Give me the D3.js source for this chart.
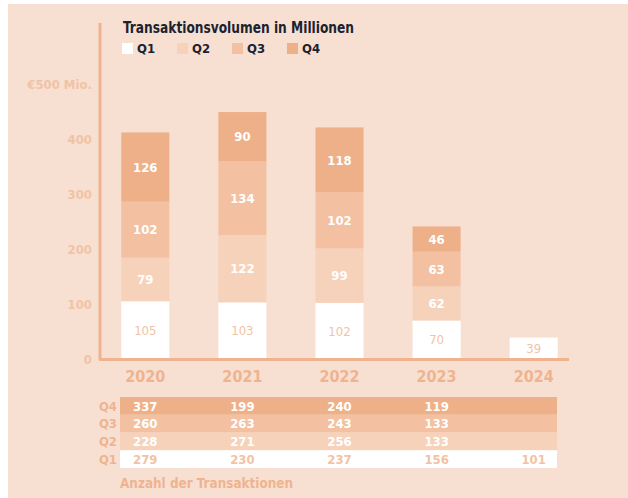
<!DOCTYPE html>
<html>
<head>
<meta charset="utf-8">
<script src="https://cdn.jsdelivr.net/npm/d3@7"></script>
<style>
  body { margin: 0; background: #fff; }
  text { font-family: "DejaVu Sans Condensed", "DejaVu Sans", sans-serif; }
</style>
</head>
<body>
<div id="chart"></div>
<script>
var years = ["2020", "2021", "2022", "2023", "2024"];
var quarters = ["Q1", "Q2", "Q3", "Q4"];
// Transaktionsvolumen in Mio. je Quartal
var q1Volume = [105, 103, 102, 70, 39];
var q2Volume = [79, 122, 99, 62, 0];
var q3Volume = [102, 134, 102, 63, 0];
var q4Volume = [126, 90, 118, 46, 0];
// Anzahl der Transaktionen je Quartal
var q1Count = [279, 230, 237, 156, 101];
var q2Count = [228, 271, 256, 133, null];
var q3Count = [260, 263, 243, 133, null];
var q4Count = [337, 199, 240, 119, null];
var yTicks = [0, 100, 200, 300, 400];

var colors = {Q1: "#ffffff", Q2: "#f6d2bb", Q3: "#f3c1a1", Q4: "#eeb089"};
var bg = "#f7e0d1", accent = "#efb48f", light = "#f1c3a5";

var svg = d3.select("#chart").append("svg")
    .attr("width", 628)
    .attr("height", 498);

svg.append("rect")
    .attr("x", 8).attr("y", 4)
    .attr("width", 620).attr("height", 494)
    .attr("fill", bg);

var volume = years.map(function(y, i) {
  return {year: y, Q1: q1Volume[i], Q2: q2Volume[i], Q3: q3Volume[i], Q4: q4Volume[i]};
});

var x = d3.scaleBand()
    .domain(years)
    .range([97, 582])
    .paddingInner(0.505)
    .paddingOuter(0.25);

var y = d3.scaleLinear()
    .domain([0, 500])
    .range([359, 84]);

var stack = d3.stack().keys(quarters)(volume);

// bars
var layer = svg.selectAll(".layer")
    .data(stack)
  .enter().append("g")
    .attr("class", "layer")
    .attr("fill", function(d) { return colors[d.key]; });

layer.selectAll("rect")
    .data(function(d) { return d.filter(function(s) { return s[1] > s[0]; }); })
  .enter().append("rect")
    .attr("x", function(d) { return x(d.data.year); })
    .attr("y", function(d) { return y(d[1]); })
    .attr("width", x.bandwidth())
    .attr("height", function(d) { return y(d[0]) - y(d[1]); });

layer.each(function(series) {
  d3.select(this).selectAll("text")
      .data(series.filter(function(s) { return s[1] > s[0]; }))
    .enter().append("text")
      .attr("x", function(d) { return x(d.data.year) + x.bandwidth() / 2; })
      .attr("y", function(d) { return (y(d[0]) + y(d[1])) / 2; })
      .attr("dy", "0.36em")
      .attr("text-anchor", "middle")
      .attr("fill", series.key === "Q1" ? light : "#fff")
      .style("font-size", "13px")
      .style("font-weight", series.key === "Q1" ? "normal" : "bold")
      .text(function(d) { return d[1] - d[0]; });
});

// axes
svg.append("line")
    .attr("x1", 100).attr("x2", 100)
    .attr("y1", 23).attr("y2", 360)
    .attr("stroke", accent).attr("stroke-width", 3);

svg.append("line")
    .attr("x1", 99).attr("x2", 569)
    .attr("y1", 359.5).attr("y2", 359.5)
    .attr("stroke", accent).attr("stroke-width", 3);

svg.selectAll(".ytick")
    .data(yTicks)
  .enter().append("text")
    .attr("class", "ytick")
    .attr("x", 92)
    .attr("y", function(d) { return y(d); })
    .attr("dy", "0.36em")
    .attr("text-anchor", "end")
    .attr("fill", light)
    .style("font-size", "13px")
    .style("font-weight", "bold")
    .text(function(d) { return d; });

svg.append("text")
    .attr("x", 92)
    .attr("y", y(500))
    .attr("dy", "0.36em")
    .attr("text-anchor", "end")
    .attr("fill", light)
    .style("font-size", "13px")
    .style("font-weight", "bold")
    .text("€500 Mio.");

svg.selectAll(".year")
    .data(years)
  .enter().append("text")
    .attr("class", "year")
    .attr("x", function(d) { return x(d) + x.bandwidth() / 2; })
    .attr("y", 376)
    .attr("dy", "0.36em")
    .attr("text-anchor", "middle")
    .attr("fill", accent)
    .style("font-size", "16px")
    .style("font-weight", "bold")
    .text(function(d) { return d; });

// title + legend
svg.append("text")
    .attr("x", 123)
    .attr("y", 33)
    .attr("fill", "#1c2230")
    .attr("textLength", 231)
    .attr("lengthAdjust", "spacingAndGlyphs")
    .style("font-size", "15px")
    .style("font-weight", "bold")
    .text("Transaktionsvolumen in Millionen");

var legend = svg.selectAll(".legend")
    .data(quarters)
  .enter().append("g")
    .attr("class", "legend")
    .attr("transform", function(d, i) { return "translate(" + (122 + i * 55) + ",43)"; });

legend.append("rect")
    .attr("width", 11).attr("height", 11)
    .attr("fill", function(d) { return colors[d]; });

legend.append("text")
    .attr("x", 15)
    .attr("y", 5.5)
    .attr("dy", "0.36em")
    .attr("fill", "#1c2230")
    .style("font-size", "13px")
    .style("font-weight", "bold")
    .text(function(d) { return d; });

// table of transaction counts
var counts = {Q1: q1Count, Q2: q2Count, Q3: q3Count, Q4: q4Count};
var rowOrder = ["Q4", "Q3", "Q2", "Q1"];

var row = d3.scaleBand()
    .domain(rowOrder)
    .range([397, 468]);

var rows = svg.selectAll(".row")
    .data(rowOrder)
  .enter().append("g")
    .attr("class", "row")
    .attr("transform", function(d) { return "translate(0," + row(d) + ")"; });

rows.append("rect")
    .attr("x", 120)
    .attr("width", 437)
    .attr("height", row.bandwidth())
    .attr("fill", function(d) { return colors[d]; });

rows.append("text")
    .attr("x", 117)
    .attr("y", row.bandwidth() / 2)
    .attr("dy", "0.36em")
    .attr("text-anchor", "end")
    .attr("fill", accent)
    .style("font-size", "13px")
    .style("font-weight", "bold")
    .text(function(d) { return d; });

rows.each(function(q) {
  d3.select(this).selectAll(".cell")
      .data(years.map(function(yr, i) { return {year: yr, v: counts[q][i]}; })
        .filter(function(c) { return c.v != null; }))
    .enter().append("text")
      .attr("class", "cell")
      .attr("x", function(c) { return x(c.year) + x.bandwidth() / 2; })
      .attr("y", row.bandwidth() / 2)
      .attr("dy", "0.36em")
      .attr("text-anchor", "middle")
      .attr("fill", q === "Q1" ? light : "#fff")
      .style("font-size", "13px")
      .style("font-weight", "bold")
      .text(function(c) { return c.v; });
});

svg.append("text")
    .attr("x", 120)
    .attr("y", 483)
    .attr("dy", "0.36em")
    .attr("fill", accent)
    .attr("textLength", 173)
    .attr("lengthAdjust", "spacingAndGlyphs")
    .style("font-size", "14px")
    .style("font-weight", "bold")
    .text("Anzahl der Transaktionen");
</script>
</body>
</html>
